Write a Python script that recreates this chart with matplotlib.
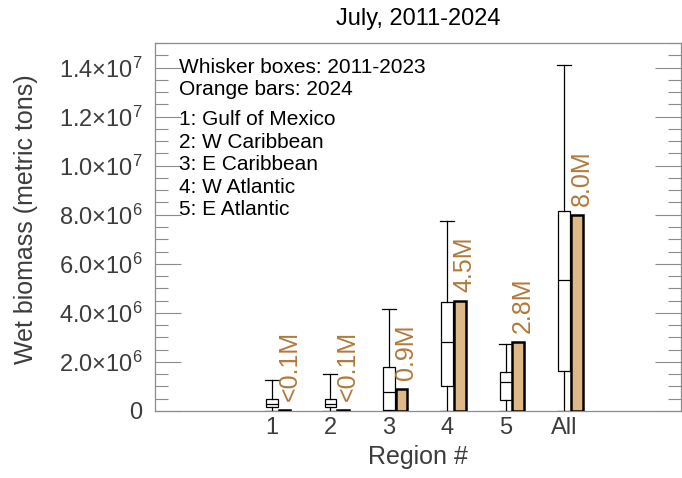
"""Wet biomass by region for July: 2011-2023 box summaries with 2024 bars."""

import matplotlib

matplotlib.use("Agg")
import matplotlib.pyplot as plt  # noqa: E402

plt.rcParams["font.family"] = ["Liberation Sans", "DejaVu Sans"]
plt.rcParams["mathtext.fontset"] = "custom"
plt.rcParams["mathtext.rm"] = "Liberation Sans"
plt.rcParams["mathtext.it"] = "Liberation Sans:italic"
plt.rcParams["mathtext.bf"] = "Liberation Sans:bold"

# Regions on the x axis
regions = ["1", "2", "3", "4", "5", "All"]
region_names = [
    "1: Gulf of Mexico",
    "2: W Caribbean",
    "3: E Caribbean",
    "4: W Atlantic",
    "5: E Atlantic",
]

# 2011-2023 box statistics (metric tons)
whisker_low = [0.0, 0.0, 0.0, 0.0, 0.0, 0.0]
quartile_1 = [0.15e6, 0.15e6, 0.05e6, 1.03e6, 0.43e6, 1.63e6]
median = [0.30e6, 0.28e6, 0.76e6, 2.82e6, 1.19e6, 5.33e6]
quartile_3 = [0.47e6, 0.47e6, 1.80e6, 4.46e6, 1.57e6, 8.14e6]
whisker_high = [1.26e6, 1.49e6, 4.15e6, 7.75e6, 2.75e6, 14.1e6]

# 2024 values (metric tons)
biomass_2024 = [0.02e6, 0.02e6, 0.9e6, 4.5e6, 2.8e6, 8.0e6]

# y axis ticks
ytick_values = [0, 2e6, 4e6, 6e6, 8e6, 10e6, 12e6, 14e6]
ytick_labels = [
    "0",
    r"2.0$\times$10$^{6}$",
    r"4.0$\times$10$^{6}$",
    r"6.0$\times$10$^{6}$",
    r"8.0$\times$10$^{6}$",
    r"1.0$\times$10$^{7}$",
    r"1.2$\times$10$^{7}$",
    r"1.4$\times$10$^{7}$",
]

AXIS_GREY = "#8c8c8c"
TEXT_GREY = "#3c3c3c"
BAR_FILL = "#deb887"
LABEL_BROWN = "#b07a3c"


def bar_label(value):
    if value < 0.1e6:
        return "<0.1M"
    return f"{value / 1e6:.1f}M"


fig = plt.figure(figsize=(6.82, 4.78), dpi=100)
ax = fig.add_axes([0.2273, 0.1402, 0.7713, 0.7698])

positions = list(range(1, len(regions) + 1))
stats = [
    {"whislo": lo, "q1": q1, "med": med, "q3": q3, "whishi": hi, "fliers": []}
    for lo, q1, med, q3, hi in zip(whisker_low, quartile_1, median, quartile_3, whisker_high)
]
ax.bxp(
    stats,
    positions=positions,
    widths=0.2,
    capwidths=0.24,
    patch_artist=True,
    showfliers=False,
    boxprops={"facecolor": "white", "edgecolor": "black", "linewidth": 0.9},
    medianprops={"color": "black", "linewidth": 0.9},
    whiskerprops={"color": "black", "linewidth": 0.9},
    capprops={"color": "black", "linewidth": 0.9},
    manage_ticks=False,
    zorder=3,
)

bar_x = [p + 0.215 for p in positions]
ax.bar(bar_x, biomass_2024, width=0.2, color=BAR_FILL, edgecolor="black",
       linewidth=1.8, zorder=3)

for x, v in zip(bar_x, biomass_2024):
    ax.annotate(bar_label(v), (x, v), xytext=(3.5, 6.5), textcoords="offset points",
                rotation=90, ha="center", va="bottom", fontsize=18,
                color=LABEL_BROWN)

ax.set_xlim(-1, 8)
ax.set_ylim(0, 1.5e7)
ax.set_xticks(positions)
ax.set_xticklabels(regions)
ax.set_yticks(ytick_values)
ax.set_yticklabels(ytick_labels)
ax.set_yticks([i * 0.5e6 for i in range(31)], minor=True)

ax.tick_params(axis="x", length=0, pad=4, labelsize=17, labelcolor=TEXT_GREY)
ax.tick_params(axis="y", which="both", direction="in", left=True, right=True,
               color=AXIS_GREY, width=0.8, labelsize=17, labelcolor=TEXT_GREY,
               pad=9)
ax.tick_params(axis="y", which="major", length=19)
ax.tick_params(axis="y", which="minor", length=9.5)

for spine in ax.spines.values():
    spine.set_color(AXIS_GREY)
    spine.set_linewidth(0.9)

ax.set_xlabel("Region #", fontsize=18, color=TEXT_GREY, labelpad=5)
ax.set_ylabel("Wet biomass (metric tons)", fontsize=18, color=TEXT_GREY)
ax.yaxis.set_label_coords(-0.222, 0.522)
ax.set_title("July, 2011-2024", fontsize=17, color="black", pad=13)

# Notes in the upper left corner
notes = ["Whisker boxes: 2011-2023", "Orange bars: 2024"]
line_step = 0.0611
y = 0.919
for line in notes:
    ax.text(0.045, y, line, transform=ax.transAxes, fontsize=15,
            va="baseline", ha="left", color="black")
    y -= line_step
y -= 0.02
for line in region_names:
    ax.text(0.045, y, line, transform=ax.transAxes, fontsize=15,
            va="baseline", ha="left", color="black")
    y -= line_step

fig.savefig("out.png", dpi=100)
